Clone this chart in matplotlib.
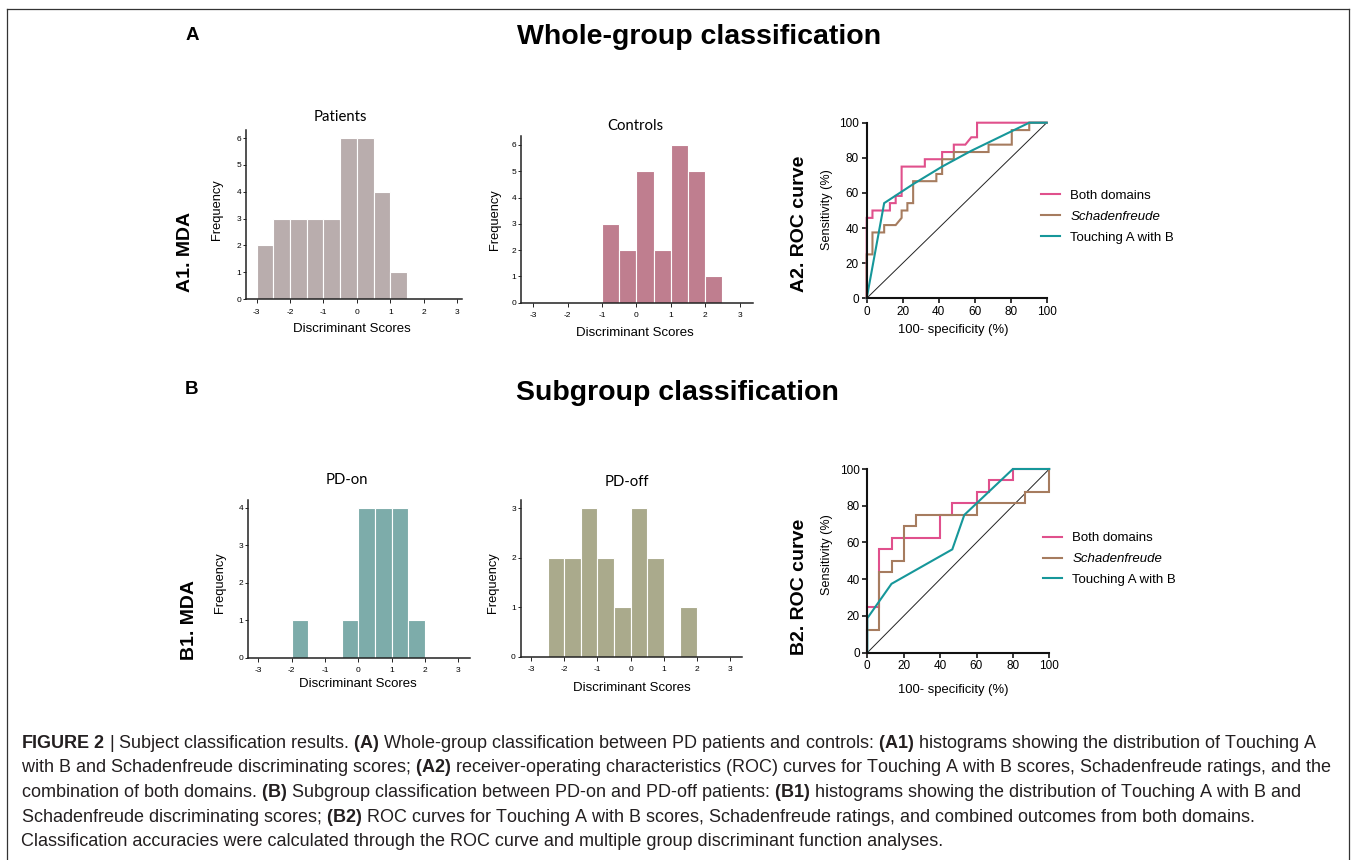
import matplotlib
matplotlib.use("Agg")
import matplotlib.pyplot as plt
from matplotlib import font_manager
from matplotlib.lines import Line2D
import numpy as np

# histogram bins (left edges, width 0.5) and counts
bin_left = [-3.0, -2.5, -2.0, -1.5, -1.0, -0.5, 0.0, 0.5, 1.0, 1.5, 2.0, 2.5]
patients = [2, 3, 3, 3, 3, 6, 6, 4, 1, 0, 0, 0]
controls = [0, 0, 0, 0, 3, 2, 5, 2, 6, 5, 1, 0]
pd_on = [0, 0, 1, 0, 0, 1, 4, 4, 4, 1, 0, 0]
pd_off = [0, 2, 2, 3, 2, 1, 3, 2, 0, 1, 0, 0]

# ROC curves, whole group (A2)
a2_both_x = [0, 0, 3.2, 3.2, 12.9, 12.9, 16.1, 16.1, 19.4, 19.4, 32.3, 32.3, 41.9, 41.9,
             48.4, 48.4, 54.8, 58.1, 61.3, 61.3, 100]
a2_both_y = [0, 45.8, 45.8, 50, 50, 54.2, 54.2, 58.3, 58.3, 75, 75, 79.2, 79.2, 83.3,
             83.3, 87.5, 87.5, 91.7, 91.7, 100, 100]
a2_schad_x = [0, 0, 3.2, 3.2, 9.7, 9.7, 16.1, 19.4, 19.4, 22.6, 22.6, 25.8, 25.8, 38.7, 38.7,
              41.9, 41.9, 48.4, 48.4, 67.7, 67.7, 80.6, 80.6, 90.3, 90.3, 100]
a2_schad_y = [0, 25, 25, 37.5, 37.5, 41.7, 41.7, 45.8, 50, 50, 54.2, 54.2, 66.7, 66.7, 70.8,
              70.8, 79.2, 79.2, 83.3, 83.3, 87.5, 87.5, 95.8, 95.8, 100, 100]
a2_touch_x = [0, 9.7, 25.8, 41.9, 58.1, 74.2, 90.3, 100]
a2_touch_y = [0, 54.2, 65, 75, 84, 92, 100, 100]

# ROC curves, subgroup (B2)
b2_both_x = [0, 0, 6.7, 6.7, 13.3, 13.3, 40, 40, 46.7, 46.7, 60, 60, 66.7, 66.7, 80, 80, 100]
b2_both_y = [0, 25, 25, 56.25, 56.25, 62.5, 62.5, 75, 75, 81.25, 81.25, 87.5, 87.5, 93.75,
             93.75, 100, 100]
b2_schad_x = [0, 0, 6.7, 6.7, 13.3, 13.3, 20, 20, 26.7, 26.7, 60, 60, 86.7, 86.7, 100, 100]
b2_schad_y = [0, 12.5, 12.5, 43.75, 43.75, 50, 50, 68.75, 68.75, 75, 75, 81.25, 81.25,
              87.5, 87.5, 100]
b2_touch_x = [0, 0, 13.3, 46.7, 53.3, 80, 100]
b2_touch_y = [0, 18.75, 37.5, 56.25, 75, 100, 100]

roc_labels = ['Both domains', 'Schadenfreude', 'Touching A with B']
roc_colors = ['#e0508c', '#a67c5f', '#16979a']

captions = [
    r"$\mathbf{FIGURE\ 2}$ | Subject classification results. $\mathbf{(A)}$ Whole-group classification between PD patients and controls: $\mathbf{(A1)}$ histograms showing the distribution of Touching A",
    r"with B and Schadenfreude discriminating scores; $\mathbf{(A2)}$ receiver-operating characteristics (ROC) curves for Touching A with B scores, Schadenfreude ratings, and the",
    r"combination of both domains. $\mathbf{(B)}$ Subgroup classification between PD-on and PD-off patients: $\mathbf{(B1)}$ histograms showing the distribution of Touching A with B and",
    r"Schadenfreude discriminating scores; $\mathbf{(B2)}$ ROC curves for Touching A with B scores, Schadenfreude ratings, and combined outcomes from both domains.",
    r"Classification accuracies were calculated through the ROC curve and multiple group discriminant function analyses.",
]

names = {f.name for f in font_manager.fontManager.ttflist}
cap_font = 'Liberation Sans Narrow' if 'Liberation Sans Narrow' in names else 'Liberation Sans'

plt.rcParams['font.family'] = ['Liberation Sans', 'DejaVu Sans']
plt.rcParams['axes.unicode_minus'] = False
plt.rcParams['mathtext.fontset'] = 'custom'
plt.rcParams['mathtext.rm'] = cap_font
plt.rcParams['mathtext.bf'] = cap_font + ':bold'
plt.rcParams['mathtext.it'] = cap_font + ':italic'

W, H = 1355, 860
fig = plt.figure(figsize=(W / 100, H / 100), dpi=100)


def px_axes(x0, y0, x1, y1):
    return fig.add_axes([x0 / W, 1 - y1 / H, (x1 - x0) / W, (y1 - y0) / H])


def ftxt(x, y, s, **kw):
    return fig.text(x / W, 1 - y / H, s, **kw)


def hist_panel(rect, counts, color, xlim, ylim, yticks):
    ax = px_axes(*rect)
    left = np.array(bin_left)
    c = np.array(counts)
    m = c > 0
    ax.bar(left[m], c[m], width=0.5, align='edge', color=color, edgecolor='white', linewidth=0.8)
    ax.set_xlim(xlim)
    ax.set_ylim(ylim)
    ax.set_xticks(range(-3, 4))
    ax.set_yticks(yticks)
    for s in ['top', 'right']:
        ax.spines[s].set_visible(False)
    for s in ['left', 'bottom']:
        ax.spines[s].set_linewidth(1.1)
        ax.spines[s].set_color('#222222')
    ax.tick_params(axis='x', length=3, width=0.7, labelsize=6, pad=4, color='#222222')
    ax.tick_params(axis='y', length=2.5, width=0.7, labelsize=6, pad=1, color='#222222')
    ax.set_facecolor('none')
    return ax


def roc_panel(rect, curves, legend_xy):
    ax = px_axes(*rect)
    ax.plot([0, 100], [0, 100], color='#222222', lw=0.7)
    handles = []
    for (xs, ys), col, lab in zip(curves, roc_colors, roc_labels):
        h, = ax.plot(xs, ys, color=col, lw=1.5, label=lab, solid_joinstyle='miter')
        handles.append(h)
    ax.set_xlim(0, 100)
    ax.set_ylim(0, 100)
    ax.set_xticks(range(0, 101, 20))
    ax.set_yticks(range(0, 101, 20))
    for s in ['top', 'right']:
        ax.spines[s].set_visible(False)
    for s in ['left', 'bottom']:
        ax.spines[s].set_linewidth(1.5)
        ax.spines[s].set_color('#111111')
    ax.tick_params(length=3.5, width=1.1, labelsize=8.5, pad=2)
    for ln in ax.lines:
        ln.set_clip_on(False)
    leg = ax.legend(handles=handles, loc='center left',
                    bbox_to_anchor=(legend_xy[0] / W, 1 - legend_xy[1] / H),
                    bbox_transform=fig.transFigure, frameon=False, fontsize=9.5,
                    handlelength=1.5, handletextpad=0.75, labelspacing=0.65,
                    borderpad=0, borderaxespad=0)
    leg.get_texts()[1].set_fontstyle('italic')
    ax.set_facecolor('none')
    return ax


# section headings
ftxt(192, 35, 'A', fontsize=13.5, fontweight='bold', ha='center', va='center')
ftxt(699, 37, 'Whole-group classification', fontsize=20.5, fontweight='bold', ha='center', va='center')
ftxt(192, 390, 'B', fontsize=13.5, fontweight='bold', ha='center', va='center')
ftxt(677, 393, 'Subgroup classification', fontsize=20.5, fontweight='bold', ha='center', va='center')

ftxt(186, 252, 'A1. MDA', fontsize=14, fontweight='bold', rotation=90, ha='center', va='center')
ftxt(800, 224, 'A2. ROC curve', fontsize=14, fontweight='bold', rotation=90, ha='center', va='center')
ftxt(190, 620, 'B1. MDA', fontsize=14, fontweight='bold', rotation=90, ha='center', va='center')
ftxt(800, 587, 'B2. ROC curve', fontsize=14, fontweight='bold', rotation=90, ha='center', va='center')

# histograms
hist_panel((246, 130, 462, 299), patients, '#b9adad', (-3.32, 3.15), (0, 6.3), range(0, 7))
hist_panel((521, 136, 753, 302.7), controls, '#bf7e8f', (-3.36, 3.39), (0, 6.34), range(0, 7))
hist_panel((248.3, 500, 470, 657.7), pd_on, '#7dacaa', (-3.3, 3.35), (0, 4.2), range(0, 5))
hist_panel((520.7, 500, 741.7, 656.7), pd_off, '#aaaa8c', (-3.31, 3.35), (0, 3.17), range(0, 4))

for x, y, s in [(340, 117, 'Patients'), (635, 126, 'Controls'), (347, 480, 'PD-on'), (627, 482, 'PD-off')]:
    ftxt(x, y, s, fontsize=10.7, family='Lato', ha='center', va='center')
for x, y in [(216.7, 210), (495, 220), (220, 583), (493, 583)]:
    ftxt(x, y, 'Frequency', fontsize=9.3, rotation=90, ha='center', va='center')
for x, y in [(352, 329), (635, 333), (358, 684), (632, 688)]:
    ftxt(x, y, 'Discriminant Scores', fontsize=9.5, ha='center', va='center')

# ROC curves
roc_panel((866.7, 122.7, 1046.7, 298.3),
          [(a2_both_x, a2_both_y), (a2_schad_x, a2_schad_y), (a2_touch_x, a2_touch_y)],
          (1040.7, 216.7))
roc_panel((867.3, 469, 1049.3, 652.7),
          [(b2_both_x, b2_both_y), (b2_schad_x, b2_schad_y), (b2_touch_x, b2_touch_y)],
          (1042.7, 559))
for x, y in [(827, 210), (827, 555)]:
    ftxt(x, y, 'Sensitivity (%)', fontsize=9.1, rotation=90, ha='center', va='center')
for x, y in [(953, 330), (953, 690)]:
    ftxt(x, y, '100- specificity (%)', fontsize=9.4, ha='center', va='center')

# caption, sized so the widest line fits inside the frame
renderer = fig.canvas.get_renderer()
widest = 0
for line in captions:
    probe = fig.text(0, 0, line, fontsize=10, family=cap_font)
    widest = max(widest, probe.get_window_extent(renderer=renderer).width)
    probe.remove()
cap_size = 10 * 1312 / widest
for i, line in enumerate(captions):
    ftxt(21, 748 + 24.5 * i, line, fontsize=cap_size, family=cap_font, ha='left', va='baseline',
         color='#231f20')

# frame
fr = dict(color='#333333', lw=0.9, transform=fig.transFigure)
fig.add_artist(Line2D([7 / W, 7 / W], [0, 1 - 9 / H], **fr))
fig.add_artist(Line2D([1349 / W, 1349 / W], [0, 1 - 9 / H], **fr))
fig.add_artist(Line2D([7 / W, 1349 / W], [1 - 9 / H, 1 - 9 / H], **fr))

fig.savefig('out.png', dpi=100)
